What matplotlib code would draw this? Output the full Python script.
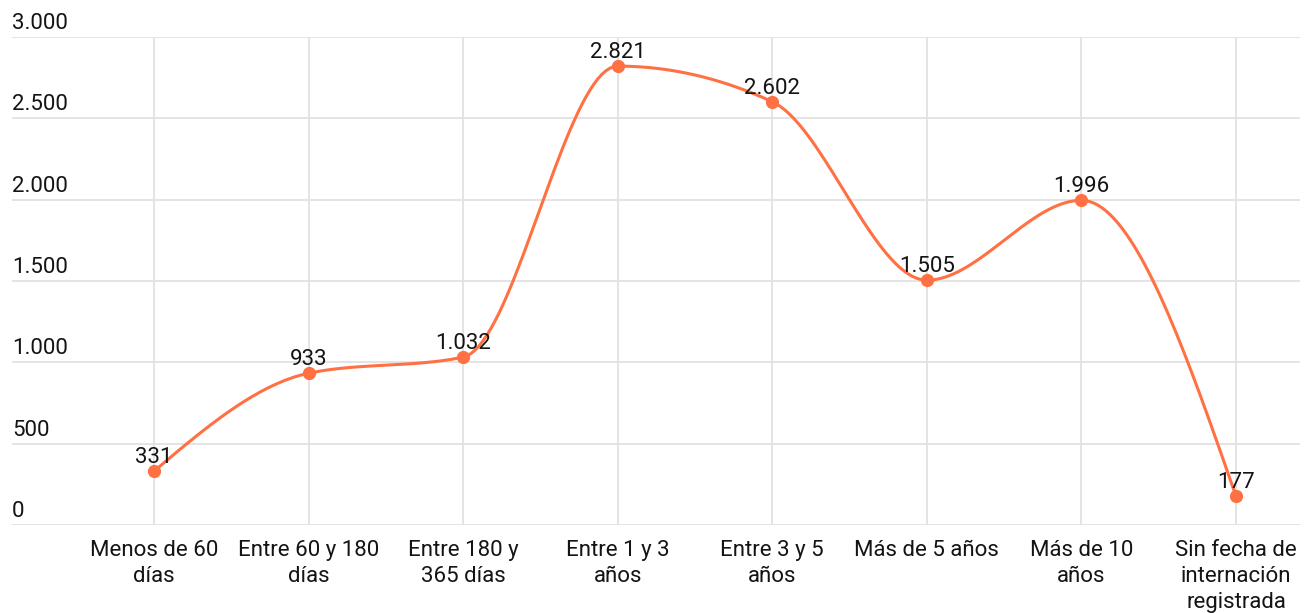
import numpy as np
import matplotlib
matplotlib.use("Agg")
import matplotlib.pyplot as plt
import matplotlib.transforms as mtransforms

plt.rcParams['font.family'] = ['Roboto', 'DejaVu Sans']

categorias = ["Menos de 60\ndías", "Entre 60 y 180\ndías", "Entre 180 y\n365 días",
              "Entre 1 y 3\naños", "Entre 3 y 5\naños", "Más de 5 años",
              "Más de 10\naños", "Sin fecha de\ninternación\nregistrada"]
valores = [331, 933, 1032, 2821, 2602, 1505, 1996, 177]
etiquetas = ["331", "933", "1.032", "2.821", "2.602", "1.505", "1.996", "177"]
yticks = [0, 500, 1000, 1500, 2000, 2500, 3000]
ytick_labels = ["0", "500", "1.000", "1.500", "2.000", "2.500", "3.000"]

color_linea = '#FF7043'
color_texto = '#141414'
color_grid = '#e2e2e2'
fs = 16


def monotone_x(x, y, n=40):
    # curva monotona tipo d3.curveMonotoneX (solo para dibujar la linea)
    x = np.asarray(x, float)
    y = np.asarray(y, float)
    h = np.diff(x)
    s = np.diff(y) / h
    t = np.zeros_like(y)
    for i in range(1, len(y) - 1):
        p = (s[i - 1] * h[i] + s[i] * h[i - 1]) / (h[i - 1] + h[i])
        t[i] = (np.sign(s[i - 1]) + np.sign(s[i])) * min(abs(s[i - 1]), abs(s[i]), 0.5 * abs(p))
    t[0] = (3 * s[0] - t[1]) / 2
    t[-1] = (3 * s[-1] - t[-2]) / 2
    xs, ys = [], []
    for i in range(len(x) - 1):
        u = np.linspace(0, 1, n)
        dx = h[i]
        h00 = 2 * u**3 - 3 * u**2 + 1
        h10 = u**3 - 2 * u**2 + u
        h01 = -2 * u**3 + 3 * u**2
        h11 = u**3 - u**2
        xs.append(x[i] + u * dx)
        ys.append(h00 * y[i] + h10 * dx * t[i] + h01 * y[i + 1] + h11 * dx * t[i + 1])
    return np.concatenate(xs), np.concatenate(ys)


fig = plt.figure(figsize=(13.04, 6.13), dpi=100)
ax = fig.add_axes([12 / 1304, 88 / 613, 1288 / 1304, 488 / 613])

pos = np.arange(len(categorias))
ax.set_xlim(-0.919, 7.414)
ax.set_ylim(0, 3000)

for v in yticks:
    ax.axhline(v, color=color_grid, lw=1.3, zorder=0)
for p in pos:
    ax.axvline(p, color=color_grid, lw=1.3, zorder=0)

xs, ys = monotone_x(pos, valores)
ax.plot(xs, ys, color=color_linea, lw=2.2, zorder=2, solid_capstyle='round')
ax.plot(pos, valores, 'o', color=color_linea, ms=8.5, zorder=3)

off_up = mtransforms.offset_copy(ax.transData, fig=fig, x=0, y=3, units='dots')
for p, v, lab in zip(pos, valores, etiquetas):
    ax.text(p, v, lab, transform=off_up, ha='center', va='bottom',
            fontsize=fs, color=color_texto, zorder=4)

ylab_tr = mtransforms.offset_copy(ax.get_yaxis_transform(), fig=fig, x=0, y=3, units='dots')
for v, lab in zip(yticks, ytick_labels):
    ax.text(0, v, lab, transform=ylab_tr, ha='left', va='bottom',
            fontsize=fs, color=color_texto)

for p, c in zip(pos, categorias):
    ax.text(p, -0.03, c, transform=ax.get_xaxis_transform(), ha='center', va='top',
            fontsize=fs, color=color_texto, linespacing=1.33)

ax.set_xticks([])
ax.set_yticks([])
for sp in ax.spines.values():
    sp.set_visible(False)
ax.patch.set_alpha(0)

fig.savefig("out.png", dpi=100)
